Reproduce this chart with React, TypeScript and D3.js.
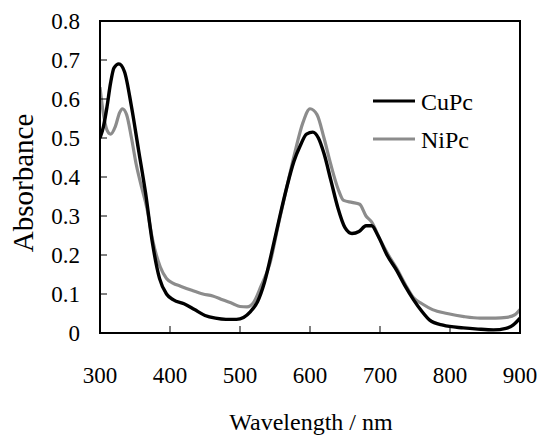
import React, { useEffect, useRef } from "react";
import * as d3 from "d3";

const cuWl = [300, 305, 310, 315, 320, 327, 335, 345, 355, 365, 375, 385, 395, 405, 420, 435, 450, 465, 480, 495, 505, 515, 525, 535, 547, 557, 567, 577, 586, 595, 604, 612, 620, 630, 640, 650, 660, 670, 680, 688, 697, 710, 724, 736, 748, 760, 771, 790, 819, 840, 862, 880, 890, 900];
const cuAbs = [0.50, 0.53, 0.58, 0.64, 0.68, 0.69, 0.67, 0.58, 0.47, 0.36, 0.23, 0.14, 0.10, 0.085, 0.075, 0.06, 0.045, 0.038, 0.035, 0.035, 0.04, 0.055, 0.08, 0.13, 0.22, 0.30, 0.375, 0.44, 0.48, 0.51, 0.515, 0.50, 0.46, 0.39, 0.32, 0.27, 0.255, 0.26, 0.275, 0.275, 0.25, 0.20, 0.16, 0.12, 0.085, 0.055, 0.033, 0.02, 0.013, 0.01, 0.008, 0.012, 0.02, 0.038];

const niWl = [300, 305, 310, 315, 322, 328, 332, 338, 345, 352, 360, 367, 375, 386, 395, 404, 415, 430, 447, 461, 475, 490, 500, 510, 520, 530, 543, 555, 567, 578, 590, 600, 610, 620, 630, 640, 648, 660, 671, 680, 688, 700, 712, 724, 736, 748, 760, 775, 796, 820, 843, 865, 881, 893, 900];
const niAbs = [0.63, 0.56, 0.52, 0.51, 0.53, 0.565, 0.575, 0.56, 0.50, 0.43, 0.37, 0.32, 0.24, 0.17, 0.14, 0.128, 0.12, 0.11, 0.10, 0.095, 0.085, 0.075, 0.068, 0.067, 0.08, 0.12, 0.18, 0.28, 0.375, 0.46, 0.54, 0.575, 0.56, 0.50, 0.43, 0.37, 0.34, 0.335, 0.33, 0.30, 0.285, 0.24, 0.20, 0.165, 0.125, 0.09, 0.075, 0.06, 0.05, 0.042, 0.038, 0.038, 0.04, 0.047, 0.06];

const xTicks = [300, 400, 500, 600, 700, 800, 900];
const yTicks = [0, 0.1, 0.2, 0.3, 0.4, 0.5, 0.6, 0.7, 0.8];
const seriesNames = ["CuPc", "NiPc"];

const FONT = `"Liberation Serif", "Times New Roman", Tinos, monospace`;

export default function App() {
  const ref = useRef<SVGSVGElement>(null);

  useEffect(() => {
    const left = 100, right = 520, top = 21, bottom = 333;
    const x = d3.scaleLinear().domain([300, 900]).range([left, right]);
    const y = d3.scaleLinear().domain([0, 0.8]).range([bottom, top]);
    const line = d3
      .line<[number, number]>()
      .x((d) => x(d[0]))
      .y((d) => y(d[1]))
      .curve(d3.curveMonotoneX);
    const cu = cuWl.map((w, i) => [w, cuAbs[i]] as [number, number]);
    const ni = niWl.map((w, i) => [w, niAbs[i]] as [number, number]);
    const colors = ["#000000", "#8c8c8c"];

    const svg = d3.select(ref.current!);
    svg.selectAll("*").remove();
    svg.attr("font-family", FONT);

    svg.append("defs").append("clipPath").attr("id", "plotclip")
      .append("rect").attr("x", left).attr("y", top).attr("width", right - left).attr("height", bottom - top);

    const g = svg.append("g").attr("clip-path", "url(#plotclip)");
    g.append("path").attr("d", line(ni) || "").attr("fill", "none").attr("stroke", colors[1])
      .attr("stroke-width", 3.2).attr("stroke-linejoin", "round");
    g.append("path").attr("d", line(cu) || "").attr("fill", "none").attr("stroke", colors[0])
      .attr("stroke-width", 3.4).attr("stroke-linejoin", "round");

    svg.append("rect").attr("x", left).attr("y", top).attr("width", right - left).attr("height", bottom - top)
      .attr("fill", "none").attr("stroke", "#000").attr("stroke-width", 2);

    yTicks.forEach((t) => {
      svg.append("line").attr("x1", left).attr("x2", left + 7).attr("y1", y(t)).attr("y2", y(t))
        .attr("stroke", "#000").attr("stroke-width", 1);
      svg.append("text").attr("x", 80).attr("y", y(t) + 8).attr("text-anchor", "end")
        .attr("font-size", 23).style("font-family", FONT)
        .text(t === 0 ? "0" : t.toFixed(1));
    });
    xTicks.forEach((t) => {
      svg.append("line").attr("x1", x(t)).attr("x2", x(t)).attr("y1", bottom).attr("y2", bottom - 7)
        .attr("stroke", "#000").attr("stroke-width", 1);
      svg.append("text").attr("x", x(t)).attr("y", 383).attr("text-anchor", "middle")
        .attr("font-size", 23).style("font-family", FONT)
        .text(String(t));
    });

    svg.append("text").attr("x", 311).attr("y", 430).attr("text-anchor", "middle")
      .attr("font-size", 24).style("font-family", FONT).text("Wavelength / nm");
    svg.append("text").attr("transform", "translate(33,183) rotate(-90)").attr("text-anchor", "middle")
      .attr("font-size", 29).style("font-family", FONT).text("Absorbance");

    seriesNames.forEach((n, i) => {
      svg.append("line").attr("x1", 373).attr("x2", 415).attr("y1", 101 + i * 38).attr("y2", 101 + i * 38)
        .attr("stroke", colors[i]).attr("stroke-width", 3);
      svg.append("text").attr("x", 421).attr("y", 110 + i * 38)
        .attr("font-size", 24).style("font-family", FONT).text(n);
    });
  }, []);

  return (
    <svg
      ref={ref}
      width={540}
      height={435}
      style={{ position: "absolute", left: 0, top: 0 }}
    />
  );
}
